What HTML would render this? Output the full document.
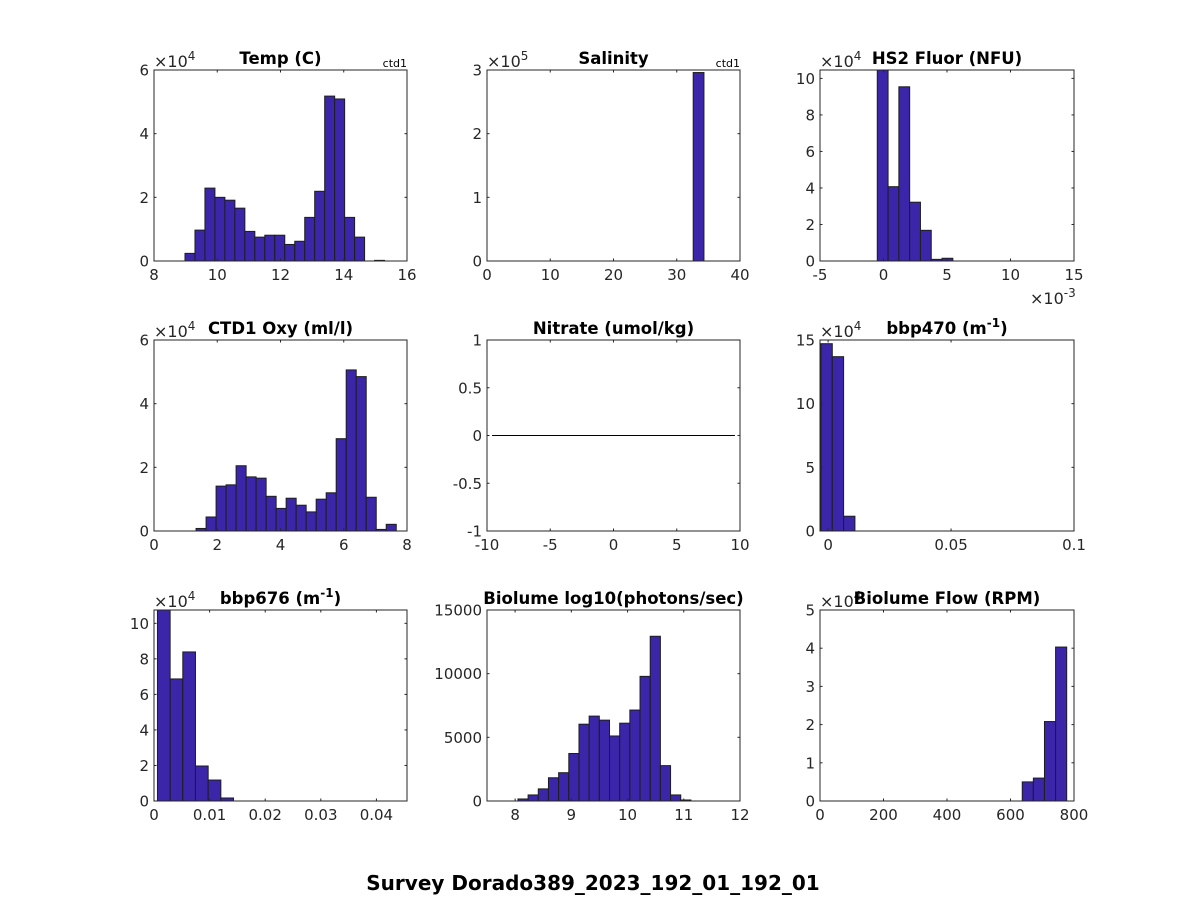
<!DOCTYPE html>
<html><head><meta charset="utf-8"><style>
html,body{margin:0;padding:0;background:#fff;}
svg{display:block;font-family:"DejaVu Sans","Liberation Sans",sans-serif;}
</style></head><body>
<svg id="fig" width="1188" height="900" viewBox="0 0 1188 900" xmlns="http://www.w3.org/2000/svg">
<rect x="0" y="0" width="1188" height="900" fill="#fff"/>
<text x="593" y="890" text-anchor="middle" font-size="20" font-weight="bold" fill="#000">Survey Dorado389_2023_192_01_192_01</text>
</svg>
<script>
// ---- data arrays ----
const titles = ["Temp (C)","Salinity","HS2 Fluor (NFU)","CTD1 Oxy (ml/l)","Nitrate (umol/kg)","bbp470 (m\u207B\u00B9)","bbp676 (m\u207B\u00B9)","Biolume log10(photons/sec)","Biolume Flow (RPM)"];
const tempCounts = [0.24,0.97,2.29,2.0,1.91,1.66,0.93,0.75,0.81,0.81,0.52,0.62,1.37,2.19,5.18,5.09,1.37,0.75,0,0.02];
const salCounts = [2.96];
const hs2Counts = [10.6,4.07,9.54,3.22,1.68,0.09,0.15];
const oxyCounts = [0.08,0.44,1.41,1.45,2.05,1.7,1.66,1.09,0.71,1.03,0.81,0.6,1.0,1.2,2.9,5.06,4.85,1.06,0.05,0.21];
const nitrateLine = [-9.6,9.6];
const bbp470Counts = [14.71,13.69,1.16];
const bbp676Counts = [11.0,6.87,8.39,1.97,1.18,0.17];
const bioCounts = [160,476,952,1825,2222,3730,6032,6667,6349,5106,6111,7143,9788,12937,2778,476,80];
const flowCounts = [0.5,0.6,2.08,4.03];
const binStarts = [8.98,32.6,-0.49,1.33,0,-0.0029,0.00062,8.05,637];
const binWidths = [0.3155,1.7,0.85,0.3165,0,0.0046,0.00228,0.181,35];
const xLims = [[8,16],[0,40],[-5,15],[0,8],[-10,10],[-0.0033,0.1],[0,0.0455],[7.5,12],[0,800]];
const yLims = [[0,6],[0,3],[0,10.46],[0,6],[-1,1],[0,15],[0,10.75],[0,15000],[0,5]];
const xTicks = [[8,10,12,14,16],[0,10,20,30,40],[-5,0,5,10,15],[0,2,4,6,8],[-10,-5,0,5,10],[0,0.05,0.1],[0,0.01,0.02,0.03,0.04],[8,9,10,11,12],[0,200,400,600,800]];
const yTicks = [[0,2,4,6],[0,1,2,3],[0,2,4,6,8,10],[0,2,4,6],[-1,-0.5,0,0.5,1],[0,5,10,15],[0,2,4,6,8,10],[0,5000,10000,15000],[0,1,2,3,4,5]];
const exponents = ["4","5","4","4","","4","4","","4"];
const ctdTags = ["ctd1","ctd1","","","","","","",""];
const allCounts = [tempCounts,salCounts,hs2Counts,oxyCounts,null,bbp470Counts,bbp676Counts,bioCounts,flowCounts];
// ---- layout ----
const colX = [[154,407],[487,740],[820,1074]];
const rowY = [[70,261],[340,531],[610,801]];
const NS = "http://www.w3.org/2000/svg";
const svg = document.getElementById('fig');
function mk(tag, attrs, parent){const e=document.createElementNS(NS,tag);for(const k in attrs)e.setAttribute(k,attrs[k]);(parent||svg).appendChild(e);return e;}
const slugs = ["temp","salinity","hs2-fluor","ctd1-oxy","nitrate","bbp470","bbp676","biolume","biolume-flow"];
for(let i=0;i<9;i++){
  const [x0,x1]=colX[i%3], [y0,y1]=rowY[Math.floor(i/3)];
  const [xa,xb]=xLims[i], [ya,yb]=yLims[i];
  const sx=v=>x0+(v-xa)/(xb-xa)*(x1-x0);
  const sy=v=>y1-(v-ya)/(yb-ya)*(y1-y0);
  const g=mk('g',{});
  
  
  const clip=mk('clipPath',{id:'c'+i},g); mk('rect',{x:x0,y:y0,width:x1-x0,height:y1-y0},clip);
  mk('rect',{x:x0,y:y0,width:x1-x0,height:y1-y0,fill:'#fff'},g);
  const counts=allCounts[i];
  const bars=mk('g',{'clip-path':'url(#c'+i+')'},g);
  if(counts){
    counts.forEach((c,k)=>{
      if(c<=0) return;
      const l=binStarts[i]+k*binWidths[i], r=l+binWidths[i];
      const b=mk('rect',{x:sx(l),y:sy(c),width:sx(r)-sx(l),height:sy(0)-sy(c),fill:'#3b25a8',stroke:'#1e1e1e','stroke-width':1},bars);
      
      
    });
  } else {
    const ln=mk('line',{x1:sx(nitrateLine[0]),x2:sx(nitrateLine[1]),y1:sy(0),y2:sy(0),stroke:'#000','stroke-width':1},bars);
    
    
  }
  mk('rect',{x:x0,y:y0,width:x1-x0,height:y1-y0,fill:'none',stroke:'#262626','stroke-width':1},g);
  xTicks[i].forEach(t=>{
    const x=sx(t);
    mk('line',{x1:x,x2:x,y1:y1,y2:y1-2.5,stroke:'#262626'},g);
    mk('line',{x1:x,x2:x,y1:y0,y2:y0+2.5,stroke:'#262626'},g);
    const tx=mk('text',{x:x,y:y1+19,'text-anchor':'middle','font-size':15,fill:'#262626'},g);
    tx.textContent=String(t);
    
    
  });
  yTicks[i].forEach(t=>{
    const y=sy(t);
    mk('line',{x1:x0,x2:x0+2.5,y1:y,y2:y,stroke:'#262626'},g);
    mk('line',{x1:x1,x2:x1-2.5,y1:y,y2:y,stroke:'#262626'},g);
    const ty=mk('text',{x:x0-5,y:y+5.5,'text-anchor':'end','font-size':15,fill:'#262626'},g);
    ty.textContent=String(t);
    
    
  });
  if(exponents[i]){
    const ex=mk('text',{x:x0,y:y0-3,'font-size':16,fill:'#262626'},g);
    ex.innerHTML='\u00D710<tspan dy="-7" font-size="12">'+exponents[i]+'</tspan>';
    
    
  }
  if(ctdTags[i]){
    const ct=mk('text',{x:x1,y:y0-3,'text-anchor':'end','font-size':11,fill:'#000'},g);
    ct.textContent=ctdTags[i];
    
    
  }
  const tt=mk('text',{x:(x0+x1)/2,y:y0-6,'text-anchor':'middle','font-size':16.5,'font-weight':'bold',fill:'#000'},g);
  if(i===5||i===6){
    tt.innerHTML=(i===5?'bbp470':'bbp676')+' (m<tspan dy="-7" font-size="12">-1</tspan><tspan dy="7">)</tspan>';
  } else tt.textContent=titles[i];
  
  
  if(i===2){
    const e3=mk('text',{x:x1-44,y:y1+43,'font-size':16,fill:'#262626'},g);
    e3.innerHTML='\u00D710<tspan dy="-7" font-size="12">-3</tspan>';
    
    
  }
}
</script>
</body></html>
